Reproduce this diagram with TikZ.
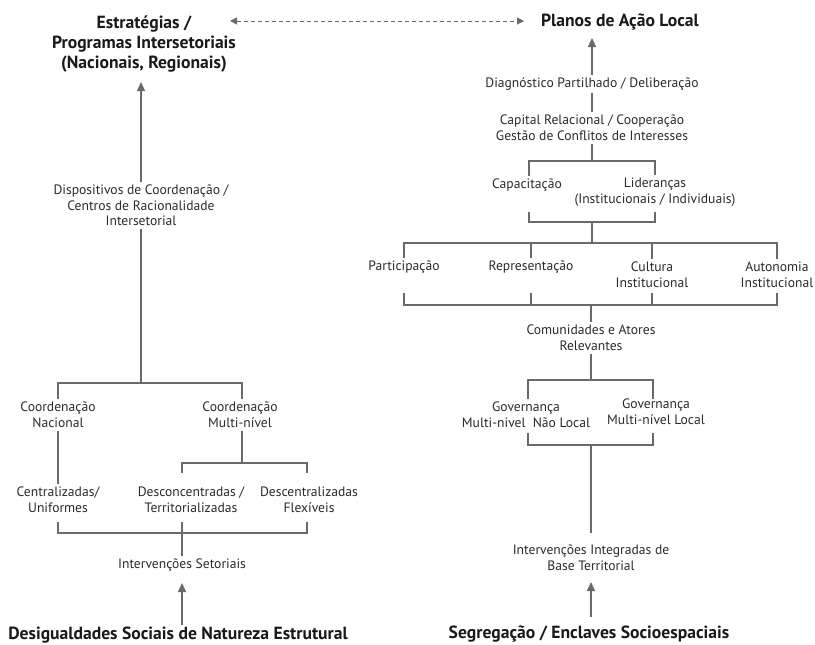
\documentclass[tikz,border=0pt]{standalone}
\usepackage{fontspec}
\setmainfont{PT Sans}
\usetikzlibrary{arrows.meta}
\definecolor{txt}{HTML}{2A2A2A}
\definecolor{lin}{HTML}{6A6A6A}
\begin{document}
\begin{tikzpicture}[x=1pt,y=-1pt,
  lbl/.style={font=\fontsize{13.6}{15.7}\selectfont, text=txt, align=center, inner sep=0pt, outer sep=3pt},
  ttl/.style={font=\bfseries\fontsize{17.6}{20.2}\selectfont, text=black!90, align=center, inner sep=0pt, outer sep=3pt},
  ln/.style={draw=lin, line width=1.3pt},
  arr/.style={ln, -{Triangle[length=9pt,width=8pt]}},
  darr/.style={draw=lin, line width=1pt, dash pattern=on 4pt off 3pt, {Triangle[length=7pt,width=7pt]}-{Triangle[length=7pt,width=7pt]}}]
\useasboundingbox (0,0) rectangle (815,645);
% ---------- left column ----------
\node[ttl] (ttlL) at (144,44) {Estratégias /\\Programas Intersetoriais\\(Nacionais, Regionais)};
\node[lbl] (disp) at (141,205.5) {Dispositivos de Coordenação /\\Centros de Racionalidade\\Intersetorial};
\node[lbl] (coN) at (58,415) {Coordenação\\Nacional};
\node[lbl] (coM) at (240,415) {Coordenação\\Multi-nível};
\node[lbl] (cen) at (58,499.5) {Centralizadas/\\Uniformes};
\node[lbl] (dcon) at (191,499.5) {Desconcentradas /\\Territorializadas};
\node[lbl] (dcen) at (309,499.5) {Descentralizadas\\Flexíveis};
\node[lbl] (intS) at (182,565) {Intervenções Setoriais};
\node[ttl] (desig) at (178,635) {Desigualdades Sociais de Natureza Estrutural};
% ---------- right column ----------
\node[ttl] (plan) at (620,22) {Planos de Ação Local};
\node[lbl] (diag) at (592,84) {Diagnóstico Partilhado / Deliberação};
\node[lbl] (cap) at (592,128) {Capital Relacional / Cooperação\\Gestão de Conflitos de Interesses};
\node[lbl] (capac) at (527,185) {Capacitação};
\node[lbl] (lid) at (655,192.5) {Lideranças\\(Institucionais / Individuais)};
\node[lbl] (part) at (404,267) {Participação};
\node[lbl] (repr) at (531,267) {Representação};
\node[lbl] (cult) at (652,274.5) {Cultura\\Institucional};
\node[lbl] (auto) at (777,274.5) {Autonomia\\Institucional};
\node[lbl] (comu) at (591,338) {Comunidades e Atores\\Relevantes};
\node[lbl] (govN) at (526,415) {Governança\\Multi-nivel\ \ Não Local};
\node[lbl] (govL) at (656,411.5) {Governança\\Multi-nível Local};
\node[lbl] (intI) at (591,558) {Intervenções Integradas de\\Base Territorial};
\node[ttl] (seg) at (589,634) {Segregação / Enclaves Socioespaciais};
% ---------- joints ----------
\coordinate (dL) at (230,21);
\coordinate (dR) at (524,21);
\coordinate (aL) at (141,82);
\coordinate (m1) at (141,383);
\coordinate (m2) at (242,463);
\coordinate (m2a) at (182,473);
\coordinate (m2b) at (307,473);
\coordinate (b1) at (58,522);
\coordinate (b2) at (182,522);
\coordinate (b3) at (307,522);
\coordinate (b4) at (182,533);
\coordinate (aS1) at (182,625);
\coordinate (aS2) at (182,583);
\coordinate (aP) at (592,38);
\coordinate (k1) at (592,161);
\coordinate (k2a) at (529,212);
\coordinate (k2b) at (655,212);
\coordinate (k2) at (592,222);
\coordinate (k3) at (592,243);
\coordinate (k4) at (591,305);
\coordinate (k4t) at (0,293);
\coordinate (k5) at (591,380);
\coordinate (k6a) at (528,433);
\coordinate (k6b) at (653,433);
\coordinate (k6) at (591,445);
\coordinate (k7) at (591,533);
\coordinate (aI1) at (591,617);
\coordinate (aI2) at (591,582);
% ---------- connectors ----------
\draw[darr] (dL) -- (dR);
% left
\draw[arr] (disp.north) -- (aL);
\draw[ln] (disp.south) -- (m1);
\draw[ln] (coN.north) |- (m1) -| (m2 |- coM.north);
\draw[ln] (coN.south) -- (cen.north);
\draw[ln] (m2 |- coM.south) -- (m2);
\draw[ln] (m2a) |- (m2) -| (m2b);
\draw[ln] (b1) |- (b4) -| (b3);
\draw[ln] (b2) -- (intS.north);
\draw[arr] (aS1) -- (aS2);
% right
\draw[arr] (diag.north) -- (aP);
\draw[ln] (diag.south) -- (cap.north);
\draw[ln] (cap.south) -- (k1);
\draw[ln] (k2a |- capac.north) |- (k1) -| (lid.north);
\draw[ln] (k2a) |- (k2) -| (k2b);
\draw[ln] (k2) -- (k3);
\draw[ln] (part.north) |- (k3) -| (auto.north);
\draw[ln] (repr.north) -- (repr.north |- k3);
\draw[ln] (cult.north) -- (cult.north |- k3);
\draw[ln] (part |- k4t) |- (k4) -| (auto |- k4t);
\draw[ln] (repr |- k4t) -- (repr |- k4);
\draw[ln] (cult |- k4t) -- (cult |- k4);
\draw[ln] (k4) -- (comu.north);
\draw[ln] (comu.south) -- (k5);
\draw[ln] (k6a |- govN.north) |- (k5) -| (k6b |- govN.north);
\draw[ln] (k6a) |- (k6) -| (k6b);
\draw[ln] (k6) -- (k7);
\draw[arr] (aI1) -- (aI2);
\end{tikzpicture}
\end{document}
